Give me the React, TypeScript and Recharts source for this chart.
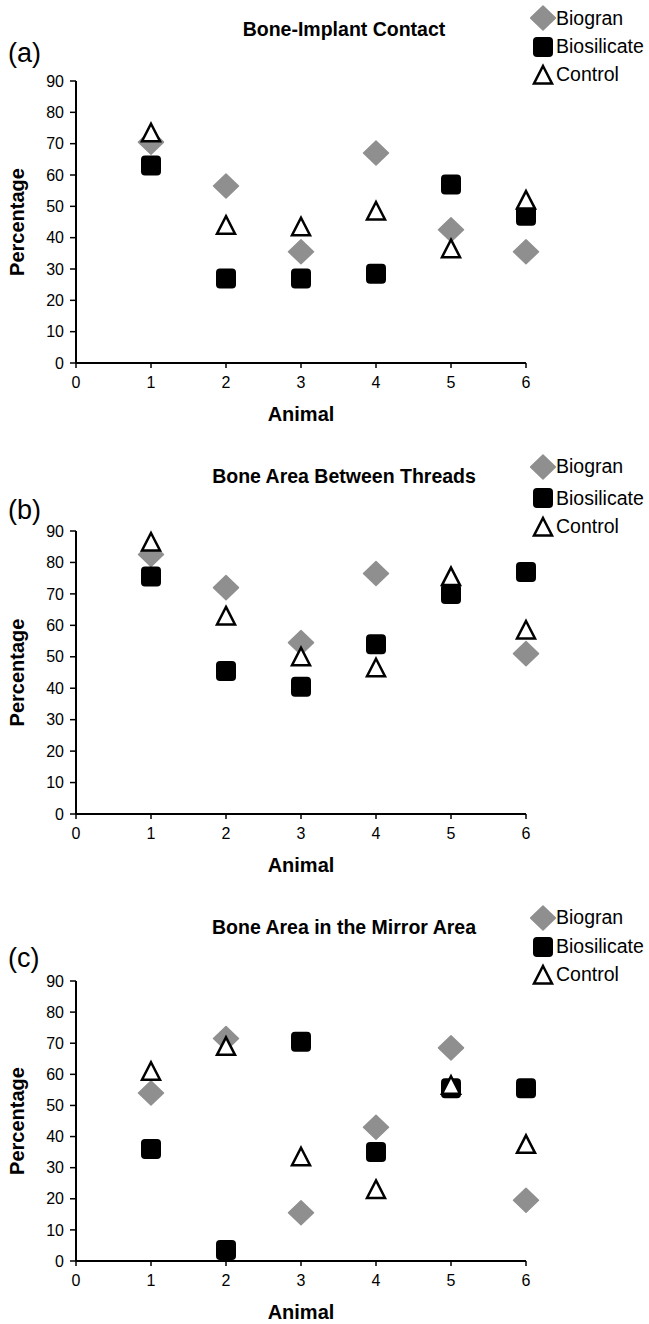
import React from "react";
import { ScatterChart, Scatter, XAxis, YAxis } from "recharts";

const animals = [1, 2, 3, 4, 5, 6];
const xTicks = [0, 1, 2, 3, 4, 5, 6];
const yTicks = [0, 10, 20, 30, 40, 50, 60, 70, 80, 90];

// (a) Bone-Implant Contact
const contactBiogran = [70.5, 56.5, 35.5, 67, 42.5, 35.5];
const contactBiosilicate = [63, 27, 27, 28.5, 57, 47];
const contactControl = [73.5, 44, 43.5, 48.5, 36.5, 52];

// (b) Bone Area Between Threads (no Biogran point for animal 5)
const threadsBiogran = [82.5, 72, 54.5, 76.5, null, 51];
const threadsBiosilicate = [75.5, 45.5, 40.5, 54, 70, 77];
const threadsControl = [86.5, 63, 50, 46.5, 75.5, 58.5];

// (c) Bone Area in the Mirror Area
const mirrorBiogran = [54, 71.5, 15.5, 43, 68.5, 19.5];
const mirrorBiosilicate = [36, 3.5, 70.5, 35, 55.5, 55.5];
const mirrorControl = [61, 69, 33.5, 23, 56.5, 37.5];

const FONT = '"Liberation Sans", Arial, Helvetica, sans-serif';
const GREY = "#8f8f8f";

const toPoints = (values: (number | null)[]) =>
  animals
    .map((animal, i) => ({ animal, pct: values[i] }))
    .filter((p) => p.pct !== null);

const Diamond = (props: any) => {
  const { cx, cy } = props;
  return (
    <path
      d={`M${cx},${cy - 12}L${cx + 12.5},${cy}L${cx},${cy + 12}L${cx - 12.5},${cy}Z`}
      fill={GREY}
      stroke={GREY}
      strokeWidth={1.5}
      strokeLinejoin="round"
    />
  );
};

const Square = (props: any) => {
  const { cx, cy } = props;
  return <rect x={cx - 10} y={cy - 10} width={20} height={20} rx={4} fill="#000" />;
};

const Triangle = (props: any) => {
  const { cx, cy } = props;
  return (
    <path
      d={`M${cx},${cy - 9}L${cx + 9},${cy + 8.5}L${cx - 9},${cy + 8.5}Z`}
      fill="#fff"
      stroke="#000"
      strokeWidth={2.5}
    />
  );
};

const legendItems = [
  { name: "Biogran", icon: <Diamond cx={13} cy={13} /> },
  { name: "Biosilicate", icon: <Square cx={13} cy={13} /> },
  { name: "Control", icon: <Triangle cx={13} cy={13} /> },
];

const centred = (x: number, y: number, extra: React.CSSProperties = {}): React.CSSProperties => ({
  position: "absolute",
  left: x,
  top: y,
  transform: "translateY(-50%)",
  lineHeight: 1,
  whiteSpace: "nowrap",
  fontFamily: FONT,
  color: "#000",
  ...extra,
});

interface PanelProps {
  top: number;
  plotHeight: number;
  title: string;
  titleY: number;
  letter: string;
  letterY: number;
  legendY: number[];
  biogran: (number | null)[];
  biosilicate: number[];
  control: number[];
}

function Panel({ top, plotHeight, title, titleY, letter, letterY, legendY, biogran, biosilicate, control }: PanelProps) {
  const height = 81 + plotHeight + 70;
  return (
    <div style={{ position: "absolute", left: 0, top, width: 649, height }}>
      <ScatterChart width={649} height={height} margin={{ top: 81, right: 123, bottom: 0, left: 0 }}>
        <XAxis
          type="number"
          dataKey="animal"
          domain={[0, 6]}
          ticks={xTicks}
          interval={0}
          height={70}
          axisLine={{ stroke: "#000", strokeWidth: 2 }}
          tickLine={{ stroke: "#000", strokeWidth: 1.5 }}
          tickSize={5}
          tickMargin={9}
          tick={{ fill: "#000", fontSize: 16, fontFamily: FONT }}
          label={{
            value: "Animal",
            position: "insideBottom",
            offset: 12,
            style: { fill: "#000", fontSize: 20, fontWeight: "bold", fontFamily: FONT },
          }}
        />
        <YAxis
          type="number"
          dataKey="pct"
          domain={[0, 90]}
          ticks={yTicks}
          interval={0}
          width={76}
          axisLine={{ stroke: "#000", strokeWidth: 2 }}
          tickLine={{ stroke: "#000", strokeWidth: 1.5 }}
          tickSize={6}
          tickMargin={6}
          tick={{ fill: "#000", fontSize: 16, fontFamily: FONT }}
          label={{
            value: "Percentage",
            angle: -90,
            position: "insideLeft",
            offset: 17,
            style: { textAnchor: "middle", fill: "#000", fontSize: 20, fontWeight: "bold", fontFamily: FONT },
          }}
        />
        <Scatter name="Biogran" data={toPoints(biogran)} shape={Diamond} isAnimationActive={false} />
        <Scatter name="Biosilicate" data={toPoints(biosilicate)} shape={Square} isAnimationActive={false} />
        <Scatter name="Control" data={toPoints(control)} shape={Triangle} isAnimationActive={false} />
      </ScatterChart>

      <div style={centred(0, titleY, { width: 688, textAlign: "center", fontSize: 19.5, fontWeight: "bold" })}>
        {title}
      </div>
      <div style={centred(8, letterY, { fontSize: 27 })}>{letter}</div>
      {legendItems.map((item, i) => (
        <div key={item.name} style={centred(530, legendY[i], { display: "flex", alignItems: "center", fontSize: 19.5 })}>
          <svg width={26} height={26} style={{ display: "block" }}>
            {item.icon}
          </svg>
          <span>{item.name}</span>
        </div>
      ))}
    </div>
  );
}

export default function App() {
  return (
    <div
      style={{
        position: "absolute",
        left: 0,
        top: 0,
        width: 649,
        height: 1324,
        background: "#fff",
        overflow: "hidden",
      }}
    >
      <Panel
        top={0}
        plotHeight={282}
        title="Bone-Implant Contact"
        titleY={30}
        letter="(a)"
        letterY={53}
        legendY={[18.3, 46.7, 75]}
        biogran={contactBiogran}
        biosilicate={contactBiosilicate}
        control={contactControl}
      />
      <Panel
        top={450}
        plotHeight={283}
        title="Bone Area Between Threads"
        titleY={26.5}
        letter="(b)"
        letterY={60}
        legendY={[16.7, 48.3, 76.7]}
        biogran={threadsBiogran}
        biosilicate={threadsBiosilicate}
        control={threadsControl}
      />
      <Panel
        top={900}
        plotHeight={280}
        title="Bone Area in the Mirror Area"
        titleY={28.3}
        letter="(c)"
        letterY={58}
        legendY={[18, 46.7, 75]}
        biogran={mirrorBiogran}
        biosilicate={mirrorBiosilicate}
        control={mirrorControl}
      />
    </div>
  );
}
